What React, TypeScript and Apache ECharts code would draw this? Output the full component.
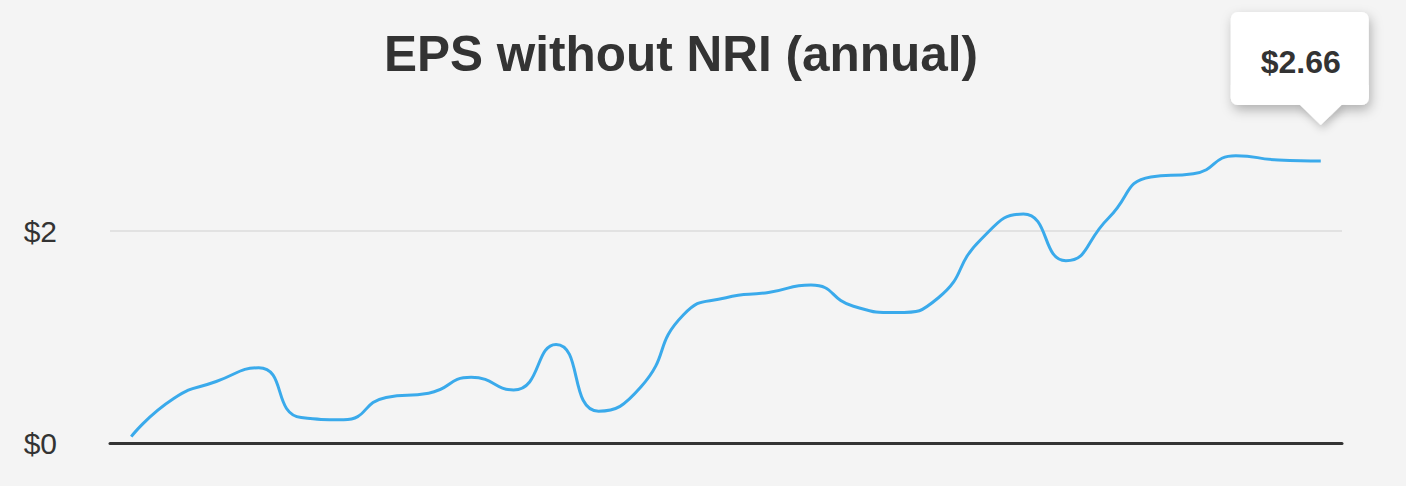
import React, { useEffect, useRef } from "react";
import * as echarts from "echarts";

const years: string[] = [
  "1996", "1997", "1998", "1999", "2000", "2001", "2002", "2003", "2004", "2005",
  "2006", "2007", "2008", "2009", "2010", "2011", "2012", "2013", "2014", "2015",
  "2016", "2017", "2018", "2019", "2020", "2021", "2022", "2023", "2024",
];
const eps: number[] = [
  0.06, 0.42, 0.58, 0.71, 0.24, 0.22, 0.43, 0.47, 0.62, 0.5,
  0.93, 0.3, 0.53, 1.21, 1.37, 1.42, 1.49, 1.29, 1.23, 1.37,
  1.92, 2.16, 1.72, 2.12, 2.51, 2.54, 2.71, 2.67, 2.66,
];
const yTicks: number[] = [0, 2];
const titleText = "EPS without NRI (annual)";

export default function App() {
  const ref = useRef<HTMLDivElement>(null);
  useEffect(() => {
    if (!ref.current) return;
    document.body.style.margin = "0";
    const chart = echarts.init(ref.current, null, { renderer: "svg" });
    chart.setOption({
      animation: false,
      backgroundColor: "#f4f4f4",
      title: {
        text: titleText,
        left: 676,
        top: 23,
        textAlign: "center",
        textStyle: {
          fontFamily: "Liberation Sans, Arial, sans-serif",
          fontSize: 49.5,
          fontWeight: "bold",
          color: "#333333",
        },
      },
      grid: { left: 110, right: 64, top: 231, bottom: 43 },
      xAxis: {
        type: "category",
        data: years,
        boundaryGap: true,
        axisLine: { show: true, lineStyle: { color: "#333333", width: 3 } },
        axisTick: { show: false },
        axisLabel: { show: false },
        splitLine: { show: false },
      },
      yAxis: {
        type: "value",
        min: yTicks[0],
        max: yTicks[yTicks.length - 1],
        interval: 2,
        axisLine: { show: false },
        axisTick: { show: false },
        axisLabel: {
          formatter: (v: number) => "$" + v,
          fontFamily: "Liberation Sans, Arial, sans-serif",
          fontSize: 30,
          color: "#333333",
          margin: 53,
          padding: [8, 0, 0, 0],
        },
        splitLine: { show: true, lineStyle: { color: "#e2e2e2", width: 2 } },
      },
      series: [
        {
          type: "line",
          data: eps,
          smooth: 0.55,
          clip: false,
          symbol: "none",
          lineStyle: { color: "#3aaaeb", width: 3 },
          z: 3,
        },
      ],
    });

    const lastIdx = eps.length - 1;
    const p = chart.convertToPixel({ seriesIndex: 0 }, [lastIdx, eps[lastIdx]]) as number[];
    if (p) {
      const px = p[0];
      const py = p[1];
      const boxL = px - 90;
      const boxT = py - 149;
      const boxW = 138;
      const boxH = 93;
      chart.setOption({
        graphic: [
          {
            type: "group",
            z: 100,
            children: [
              {
                type: "rect",
                shape: { x: boxL, y: boxT, width: boxW, height: boxH, r: 7 },
                style: {
                  fill: "#ffffff",
                  shadowBlur: 12,
                  shadowOffsetX: 2,
                  shadowOffsetY: 5,
                  shadowColor: "rgba(0,0,0,0.28)",
                },
              },
              {
                type: "polygon",
                shape: {
                  points: [
                    [px - 22, boxT + boxH - 1],
                    [px + 22, boxT + boxH - 1],
                    [px, py - 36],
                  ],
                },
                style: {
                  fill: "#ffffff",
                  shadowBlur: 8,
                  shadowOffsetX: 2,
                  shadowOffsetY: 4,
                  shadowColor: "rgba(0,0,0,0.22)",
                },
              },
              {
                type: "rect",
                shape: { x: boxL, y: boxT + boxH - 20, width: boxW, height: 19, r: [0, 0, 7, 7] },
                style: { fill: "#ffffff" },
              },
              {
                type: "text",
                x: boxL + boxW / 2 + 1,
                y: boxT + boxH / 2 + 3,
                style: {
                  text: "$" + eps[lastIdx].toFixed(2),
                  fontFamily: "Liberation Sans, Arial, sans-serif",
                  fontSize: 32,
                  fontWeight: "bold",
                  fill: "#333333",
                  align: "center",
                  verticalAlign: "middle",
                },
              },
            ],
          },
        ],
      });
    }
    return () => chart.dispose();
  }, []);
  return (
    <div
      ref={ref}
      style={{ position: "fixed", left: 0, top: 0, width: 1406, height: 486 }}
    />
  );
}
